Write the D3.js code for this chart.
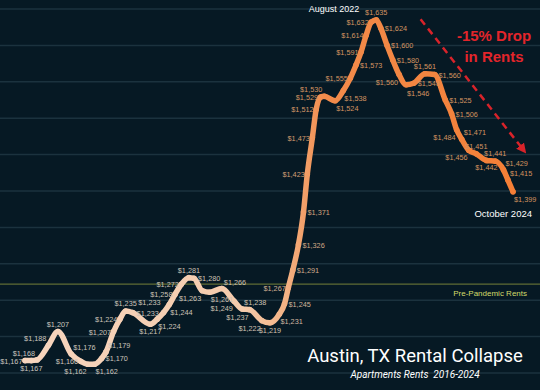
<!DOCTYPE html>
<html>
<head>
<meta charset="utf-8">
<script src="https://cdn.jsdelivr.net/npm/d3@7"></script>
<style>
  html, body { margin: 0; padding: 0; background: #061924; }
  svg { display: block; }
</style>
</head>
<body>
<div id="chart"></div>
<script>
// decimal year of each reading
var years = [2017.08, 2017.18, 2017.27, 2017.45, 2017.60, 2017.81, 2017.96, 2018.07, 2018.18, 2018.29,
  2018.36, 2018.48, 2018.58, 2018.67, 2018.78, 2019.06, 2019.17, 2019.27, 2019.36, 2019.45,
  2019.55, 2019.67, 2019.75, 2019.88, 2020.00, 2020.19, 2020.38, 2020.51, 2020.63, 2020.82,
  2020.95, 2021.10, 2021.18, 2021.24, 2021.31, 2021.40, 2021.48, 2021.54, 2021.62, 2021.68,
  2021.75, 2021.81, 2021.98, 2022.11, 2022.22, 2022.31, 2022.39, 2022.47, 2022.55, 2022.63,
  2022.70, 2022.80, 2022.89, 2022.99, 2023.10, 2023.22, 2023.40, 2023.55, 2023.72, 2023.82,
  2023.90, 2023.98, 2024.09, 2024.21, 2024.37, 2024.51, 2024.64, 2024.71, 2024.79];

var rents = [1167, 1167, 1168, 1188, 1207, 1176, 1166, 1162, 1162, 1170,
  1179, 1207, 1224, 1235, 1233, 1217, 1224, 1233, 1244, 1258,
  1272, 1281, 1280, 1263, 1261, 1266, 1249, 1238, 1237, 1222,
  1219, 1231, 1245, 1267, 1291, 1326, 1371, 1423, 1473, 1512,
  1529, 1530, 1524, 1538, 1555, 1573, 1591, 1614, 1632, 1635,
  1624, 1600, 1580, 1560, 1546, 1548, 1561, 1560, 1525, 1506,
  1484, 1471, 1456, 1451, 1442, 1441, 1429, 1415, 1399];

// which side of its point each value label sits on
var labelSide = ['l', 'b', 'tl', 'tl', 't', 'tr', 'l', 'bl', 'br', 'r',
  'tr', 'l', 'l', 't', 'r', 'b', 'br', 'tt', 'br', 'l',
  'l', 't', 'r', 'bl', 'br', 'tr', 'bl', 'tr', 'bl', 'bl',
  'b', 'br', 'r', 'l', 'r', 'r', 'r', 'l', 'l', 'l',
  'l', 'tl', 'br', 'br', 'l', 'r', 'l', 'l', 'l', 't',
  'r', 'r', 'r', 'bl', 'bb', 'r', 't', 'r', 'r', 'r',
  'bl', 'tr', 'bl', 't', 'b', 't', 'tr', 'tr', 'br'];

var gridValues = [1150, 1200, 1250, 1300, 1350, 1400, 1450, 1500, 1550, 1600, 1650];
var prePandemic = 1272;
var peakLabel = 'August 2022', endLabel = 'October 2024';
var dropText = ['-15% Drop', 'in Rents'];
var dropArrow = [[2023.33, 1636], [2024.95, 1457]];
var title = 'Austin, TX Rental Collapse', subtitle = 'Apartments Rents  2016-2024';

var width = 540, height = 390;

var data = years.map(function(y, i) { return {year: y, rent: rents[i], side: labelSide[i]}; });

var x = d3.scaleLinear()
  .domain(d3.extent(years))
  .range([25, 513]);

var y = d3.scaleLinear()
  .domain([1150, 1650])
  .range([373, 9]);

var fmt = d3.format('$,');

var svg = d3.select('#chart').append('svg')
  .attr('width', width)
  .attr('height', height);

svg.append('rect').attr('width', width).attr('height', height).attr('fill', '#061924');

var defs = svg.append('defs');
var grad = defs.append('linearGradient')
  .attr('id', 'lineGrad')
  .attr('gradientUnits', 'userSpaceOnUse')
  .attr('x1', 0).attr('x2', width).attr('y1', 0).attr('y2', 0);
grad.selectAll('stop')
  .data([[0, '#f7d6c0'], [0.45, '#f5cbac'], [0.53, '#f3b284'], [0.6, '#f28c4c'], [1, '#f57d33']])
  .enter().append('stop')
  .attr('offset', function(d) { return d[0]; })
  .attr('stop-color', function(d) { return d[1]; });

defs.append('marker')
  .attr('id', 'arrowHead')
  .attr('viewBox', '0 0 10 10')
  .attr('refX', 5).attr('refY', 5)
  .attr('markerWidth', 4).attr('markerHeight', 4)
  .attr('orient', 'auto')
  .append('path')
  .attr('d', 'M0,0L10,5L0,10Z')
  .attr('fill', '#d8232a');

// gridlines
svg.append('g')
  .selectAll('line')
  .data(gridValues)
  .enter().append('line')
  .attr('x1', 0).attr('x2', width)
  .attr('y1', function(d) { return y(d); })
  .attr('y2', function(d) { return y(d); })
  .attr('stroke', '#1b323e')
  .attr('stroke-width', 1.5);

// pre-pandemic level
svg.append('line')
  .attr('x1', 0).attr('x2', width)
  .attr('y1', y(prePandemic)).attr('y2', y(prePandemic))
  .attr('stroke', '#5f6d34')
  .attr('stroke-width', 1.2);

svg.append('text')
  .attr('x', 527).attr('y', y(prePandemic) + 12)
  .attr('text-anchor', 'end')
  .attr('font-family', 'Liberation Sans, Arial, sans-serif')
  .attr('font-size', 8)
  .attr('fill', '#d2da6a')
  .text('Pre-Pandemic Rents');

// rent line
var line = d3.line()
  .x(function(d) { return x(d.year); })
  .y(function(d) { return y(d.rent); })
  .curve(d3.curveMonotoneX);

svg.append('path')
  .datum(data)
  .attr('d', line)
  .attr('fill', 'none')
  .attr('stroke', 'url(#lineGrad)')
  .attr('stroke-width', 5.5)
  .attr('stroke-linejoin', 'round')
  .attr('stroke-linecap', 'round');

svg.append('g')
  .selectAll('circle')
  .data(data)
  .enter().append('circle')
  .attr('cx', function(d) { return x(d.year); })
  .attr('cy', function(d) { return y(d.rent); })
  .attr('r', 2.8)
  .attr('fill', 'url(#lineGrad)');

// value labels
var labelColor = d3.scaleLinear()
  .domain([0, 270, 320, 540])
  .range(['#c9c6c2', '#cfc0b0', '#d49462', '#d3935f']);

var offsets = {
  l: [-2.5, 3, 'end'], r: [4, 3, 'start'], t: [0, -5, 'middle'], b: [0, 10, 'middle'],
  tl: [-2, -4, 'end'], tr: [2, -4, 'start'], bl: [-1, 10, 'end'], br: [1, 10, 'start'],
  tt: [-3, -8, 'end'], bb: [1, 11, 'start']
};

svg.append('g')
  .selectAll('text')
  .data(data)
  .enter().append('text')
  .attr('x', function(d) { return x(d.year) + offsets[d.side][0]; })
  .attr('y', function(d) { return y(d.rent) + offsets[d.side][1]; })
  .attr('text-anchor', function(d) { return offsets[d.side][2]; })
  .attr('font-family', 'Liberation Sans, Arial, sans-serif')
  .attr('font-size', 7.3)
  .attr('fill', function(d) { return labelColor(x(d.year)); })
  .text(function(d) { return fmt(d.rent); });

// peak and end annotations
var peak = data[d3.maxIndex(data, function(d) { return d.rent; })];
var last = data[data.length - 1];

svg.append('text')
  .attr('x', x(peak.year) - 17).attr('y', 12)
  .attr('text-anchor', 'end')
  .attr('font-family', 'Liberation Sans, Arial, sans-serif')
  .attr('font-size', 9)
  .attr('fill', '#ffffff')
  .text(peakLabel);

svg.append('text')
  .attr('x', x(last.year) + 19).attr('y', y(last.rent) + 25)
  .attr('text-anchor', 'end')
  .attr('font-family', 'Liberation Sans, Arial, sans-serif')
  .attr('font-size', 9.5)
  .attr('fill', '#ffffff')
  .text(endLabel);

// drop arrow
svg.append('line')
  .attr('x1', x(dropArrow[0][0])).attr('y1', y(dropArrow[0][1]))
  .attr('x2', x(dropArrow[1][0])).attr('y2', y(dropArrow[1][1]))
  .attr('stroke', '#d8232a')
  .attr('stroke-width', 2.5)
  .attr('stroke-dasharray', '7,5')
  .attr('marker-end', 'url(#arrowHead)');

svg.append('g')
  .selectAll('text')
  .data(dropText)
  .enter().append('text')
  .attr('x', 494)
  .attr('y', function(d, i) { return 41 + i * 21; })
  .attr('text-anchor', 'middle')
  .attr('font-family', 'Liberation Sans, Arial, sans-serif')
  .attr('font-weight', 'bold')
  .attr('font-size', 15)
  .attr('fill', '#e3252b')
  .text(function(d) { return d; });

// title block
svg.append('text')
  .attr('x', 415).attr('y', 362)
  .attr('text-anchor', 'middle')
  .attr('font-family', 'Roboto, Noto Sans, sans-serif')
  .attr('font-size', 18.5)
  .attr('fill', '#ffffff')
  .text(title);

svg.append('text')
  .attr('x', 415).attr('y', 378)
  .attr('text-anchor', 'middle')
  .attr('font-family', 'Roboto, Noto Sans, sans-serif')
  .attr('font-style', 'italic')
  .attr('font-size', 10)
  .attr('fill', '#ffffff')
  .style('white-space', 'pre')
  .text(subtitle);
</script>
</body>
</html>
